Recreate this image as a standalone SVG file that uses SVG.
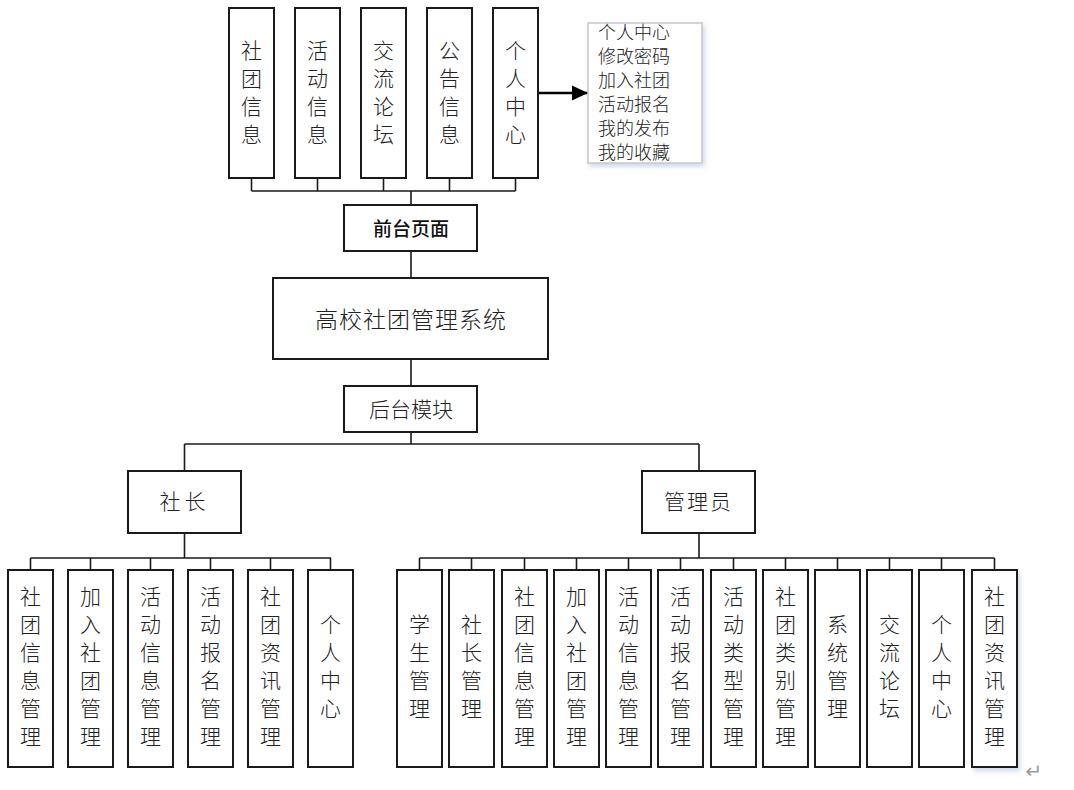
<svg xmlns="http://www.w3.org/2000/svg" width="1074" height="790" viewBox="0 0 1074 790">
<style>
.box{fill:#fff;stroke:#1a1a1a;stroke-width:2}
.ln{fill:none;stroke:#1a1a1a;stroke-width:1.6}
.t{font-family:"Noto Sans CJK SC","Noto Sans",sans-serif;font-size:21px;fill:#222;text-anchor:middle;dominant-baseline:central;font-weight:300}
.th{font-family:"Noto Sans CJK SC","Noto Sans",sans-serif;font-size:19px;fill:#111;text-anchor:middle;dominant-baseline:central;font-weight:500}
.tm{font-family:"Noto Sans CJK SC","Noto Sans",sans-serif;font-size:23px;fill:#222;text-anchor:middle;dominant-baseline:central;font-weight:300}
.ts{font-family:"Noto Sans CJK SC","Noto Sans",sans-serif;font-size:18px;fill:#222;dominant-baseline:central;font-weight:300}
</style>
<defs>
<marker id="arr" markerWidth="16" markerHeight="16" refX="16" refY="8" orient="auto" markerUnits="userSpaceOnUse">
<path d="M0,0.5 L16,8 L0,15.5 Z" fill="#000"/>
</marker>
<filter id="sh" x="-20%" y="-20%" width="150%" height="150%">
<feDropShadow dx="2" dy="3" stdDeviation="2.5" flood-color="#9db3d6" flood-opacity="0.5"/>
</filter>
</defs>
<rect width="1074" height="790" fill="#fff"/>

<g id="connectors">
<path class="ln" d="M251.5,178V191M317.5,178V191M383.5,178V191M449.5,178V191M515.5,178V191M251.5,191H515.5M411,191V205"/>
<path class="ln" d="M411,251V278M411,359V386M411,432V444M184.5,444H699M184.5,444V471M699,444V471"/>
<line x1="538" y1="93" x2="588" y2="93" stroke="#000" stroke-width="2.5" marker-end="url(#arr)"/>
<path class="ln" stroke-width="3" d="M184.5,533V558"/>
<path class="ln" d="M30.5,558H331M30.5,558V570M90.5,558V570M150.5,558V570M210.5,558V570M270.5,558V570M330.5,558V570"/>
<path class="ln" stroke-width="3" d="M699,533V558"/>
<path class="ln" d="M419.5,558H994.5M419.5,558V570M471.5,558V570M524.5,558V570M576.5,558V570M628.5,558V570M680.5,558V570M733.5,558V570M785.5,558V570M837.5,558V570M889.5,558V570M941.5,558V570M994.5,558V570"/>
</g>

<g id="top1"><rect class="box" x="229" y="8" width="45" height="170"/><text class="t"><tspan x="251.5" y="49">社</tspan><tspan x="251.5" y="77">团</tspan><tspan x="251.5" y="105">信</tspan><tspan x="251.5" y="133">息</tspan></text></g>
<g id="top2"><rect class="box" x="295" y="8" width="45" height="170"/><text class="t"><tspan x="317.5" y="49">活</tspan><tspan x="317.5" y="77">动</tspan><tspan x="317.5" y="105">信</tspan><tspan x="317.5" y="133">息</tspan></text></g>
<g id="top3"><rect class="box" x="361" y="8" width="45" height="170"/><text class="t"><tspan x="383.5" y="49">交</tspan><tspan x="383.5" y="77">流</tspan><tspan x="383.5" y="105">论</tspan><tspan x="383.5" y="133">坛</tspan></text></g>
<g id="top4"><rect class="box" x="427" y="8" width="45" height="170"/><text class="t"><tspan x="449.5" y="49">公</tspan><tspan x="449.5" y="77">告</tspan><tspan x="449.5" y="105">信</tspan><tspan x="449.5" y="133">息</tspan></text></g>
<g id="top5"><rect class="box" x="493" y="8" width="45" height="170"/><text class="t"><tspan x="515.5" y="49">个</tspan><tspan x="515.5" y="77">人</tspan><tspan x="515.5" y="105">中</tspan><tspan x="515.5" y="133">心</tspan></text></g>

<g id="personal-list"><rect x="588" y="23" width="114" height="140" fill="#fff" stroke="#c8c8c8" stroke-width="1.5" filter="url(#sh)"/>
<text class="ts"><tspan x="598" y="31">个人中心</tspan><tspan x="598" y="55">修改密码</tspan><tspan x="598" y="79">加入社团</tspan><tspan x="598" y="103">活动报名</tspan><tspan x="598" y="127">我的发布</tspan><tspan x="598" y="151">我的收藏</tspan></text></g>

<g id="front"><rect class="box" x="344" y="205" width="133" height="46"/><text class="th" x="411" y="227">前台页面</text></g>
<g id="system"><rect class="box" x="273" y="278" width="275" height="81"/><text class="tm" x="411" y="318" letter-spacing="1">高校社团管理系统</text></g>
<g id="backend"><rect class="box" x="344" y="386" width="133" height="46"/><text class="t" x="411" y="408" font-size="19">后台模块</text></g>
<g id="president"><rect class="box" x="128" y="471" width="113" height="62"/><text class="t" x="184.5" y="500" font-size="19" letter-spacing="4">社长</text></g>
<g id="admin"><rect class="box" x="642" y="471" width="113" height="62"/><text class="t" x="698.5" y="500" font-size="19" letter-spacing="2">管理员</text></g>

<g id="p1"><rect class="box" x="8" y="570" width="45" height="197"/><text class="t"><tspan x="30.5" y="595">社</tspan><tspan x="30.5" y="623">团</tspan><tspan x="30.5" y="651">信</tspan><tspan x="30.5" y="679">息</tspan><tspan x="30.5" y="707">管</tspan><tspan x="30.5" y="735">理</tspan></text></g>
<g id="p2"><rect class="box" x="68" y="570" width="45" height="197"/><text class="t"><tspan x="90.5" y="595">加</tspan><tspan x="90.5" y="623">入</tspan><tspan x="90.5" y="651">社</tspan><tspan x="90.5" y="679">团</tspan><tspan x="90.5" y="707">管</tspan><tspan x="90.5" y="735">理</tspan></text></g>
<g id="p3"><rect class="box" x="128" y="570" width="45" height="197"/><text class="t"><tspan x="150.5" y="595">活</tspan><tspan x="150.5" y="623">动</tspan><tspan x="150.5" y="651">信</tspan><tspan x="150.5" y="679">息</tspan><tspan x="150.5" y="707">管</tspan><tspan x="150.5" y="735">理</tspan></text></g>
<g id="p4"><rect class="box" x="188" y="570" width="45" height="197"/><text class="t"><tspan x="210.5" y="595">活</tspan><tspan x="210.5" y="623">动</tspan><tspan x="210.5" y="651">报</tspan><tspan x="210.5" y="679">名</tspan><tspan x="210.5" y="707">管</tspan><tspan x="210.5" y="735">理</tspan></text></g>
<g id="p5"><rect class="box" x="248" y="570" width="45" height="197"/><text class="t"><tspan x="270.5" y="595">社</tspan><tspan x="270.5" y="623">团</tspan><tspan x="270.5" y="651">资</tspan><tspan x="270.5" y="679">讯</tspan><tspan x="270.5" y="707">管</tspan><tspan x="270.5" y="735">理</tspan></text></g>
<g id="p6"><rect class="box" x="308" y="570" width="45" height="197"/><text class="t"><tspan x="330.5" y="623">个</tspan><tspan x="330.5" y="651">人</tspan><tspan x="330.5" y="679">中</tspan><tspan x="330.5" y="707">心</tspan></text></g>

<g id="a1"><rect class="box" x="397" y="570" width="45" height="197"/><text class="t"><tspan x="419.5" y="623">学</tspan><tspan x="419.5" y="651">生</tspan><tspan x="419.5" y="679">管</tspan><tspan x="419.5" y="707">理</tspan></text></g>
<g id="a2"><rect class="box" x="449" y="570" width="45" height="197"/><text class="t"><tspan x="471.5" y="623">社</tspan><tspan x="471.5" y="651">长</tspan><tspan x="471.5" y="679">管</tspan><tspan x="471.5" y="707">理</tspan></text></g>
<g id="a3"><rect class="box" x="502" y="570" width="45" height="197"/><text class="t"><tspan x="524.5" y="595">社</tspan><tspan x="524.5" y="623">团</tspan><tspan x="524.5" y="651">信</tspan><tspan x="524.5" y="679">息</tspan><tspan x="524.5" y="707">管</tspan><tspan x="524.5" y="735">理</tspan></text></g>
<g id="a4"><rect class="box" x="554" y="570" width="45" height="197"/><text class="t"><tspan x="576.5" y="595">加</tspan><tspan x="576.5" y="623">入</tspan><tspan x="576.5" y="651">社</tspan><tspan x="576.5" y="679">团</tspan><tspan x="576.5" y="707">管</tspan><tspan x="576.5" y="735">理</tspan></text></g>
<g id="a5"><rect class="box" x="606" y="570" width="45" height="197"/><text class="t"><tspan x="628.5" y="595">活</tspan><tspan x="628.5" y="623">动</tspan><tspan x="628.5" y="651">信</tspan><tspan x="628.5" y="679">息</tspan><tspan x="628.5" y="707">管</tspan><tspan x="628.5" y="735">理</tspan></text></g>
<g id="a6"><rect class="box" x="658" y="570" width="45" height="197"/><text class="t"><tspan x="680.5" y="595">活</tspan><tspan x="680.5" y="623">动</tspan><tspan x="680.5" y="651">报</tspan><tspan x="680.5" y="679">名</tspan><tspan x="680.5" y="707">管</tspan><tspan x="680.5" y="735">理</tspan></text></g>
<g id="a7"><rect class="box" x="711" y="570" width="45" height="197"/><text class="t"><tspan x="733.5" y="595">活</tspan><tspan x="733.5" y="623">动</tspan><tspan x="733.5" y="651">类</tspan><tspan x="733.5" y="679">型</tspan><tspan x="733.5" y="707">管</tspan><tspan x="733.5" y="735">理</tspan></text></g>
<g id="a8"><rect class="box" x="763" y="570" width="45" height="197"/><text class="t"><tspan x="785.5" y="595">社</tspan><tspan x="785.5" y="623">团</tspan><tspan x="785.5" y="651">类</tspan><tspan x="785.5" y="679">别</tspan><tspan x="785.5" y="707">管</tspan><tspan x="785.5" y="735">理</tspan></text></g>
<g id="a9"><rect class="box" x="815" y="570" width="45" height="197"/><text class="t"><tspan x="837.5" y="623">系</tspan><tspan x="837.5" y="651">统</tspan><tspan x="837.5" y="679">管</tspan><tspan x="837.5" y="707">理</tspan></text></g>
<g id="a10"><rect class="box" x="867" y="570" width="45" height="197"/><text class="t"><tspan x="889.5" y="623">交</tspan><tspan x="889.5" y="651">流</tspan><tspan x="889.5" y="679">论</tspan><tspan x="889.5" y="707">坛</tspan></text></g>
<g id="a11"><rect class="box" x="919" y="570" width="45" height="197"/><text class="t"><tspan x="941.5" y="623">个</tspan><tspan x="941.5" y="651">人</tspan><tspan x="941.5" y="679">中</tspan><tspan x="941.5" y="707">心</tspan></text></g>
<g id="a12"><rect class="box" x="972" y="570" width="45" height="197" filter="url(#sh)"/><text class="t"><tspan x="994.5" y="595">社</tspan><tspan x="994.5" y="623">团</tspan><tspan x="994.5" y="651">资</tspan><tspan x="994.5" y="679">讯</tspan><tspan x="994.5" y="707">管</tspan><tspan x="994.5" y="735">理</tspan></text></g>

<text x="1034" y="771" font-family="DejaVu Sans,sans-serif" font-size="20" fill="#999" text-anchor="middle" dominant-baseline="central">↵</text>
</svg>
